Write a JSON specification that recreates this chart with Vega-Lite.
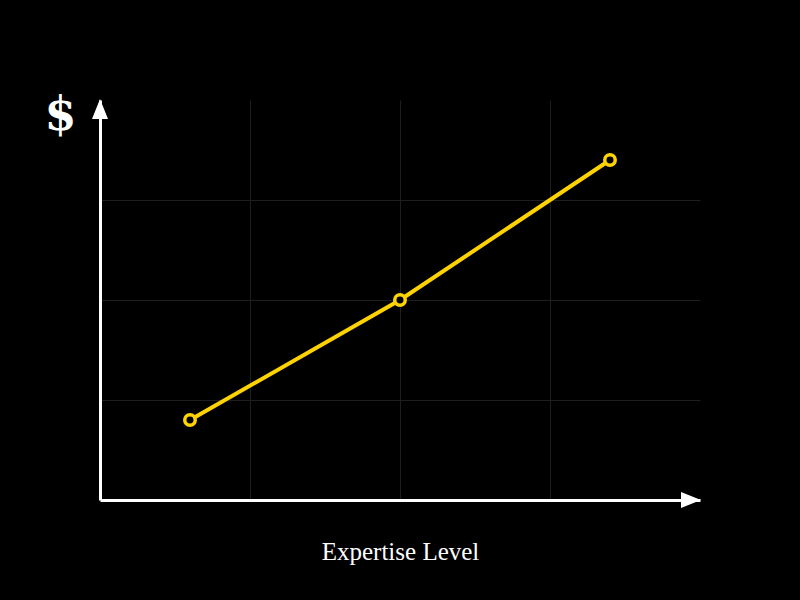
{
  "$schema": "https://vega.github.io/schema/vega-lite/v6.json",
  "width": 600,
  "height": 400,
  "autosize": {"type": "none"},
  "padding": {"left": 100, "top": 100, "right": 100, "bottom": 100},
  "background": "black",
  "config": {"view": {"stroke": null}},
  "datasets": {
    "salary": [
      {"expertise": 0.6, "pay": 0.8},
      {"expertise": 2.0, "pay": 2.0},
      {"expertise": 3.4, "pay": 3.4}
    ],
    "arrows": [
      {"ax": 0, "ay": 4, "dir": "up"},
      {"ax": 4, "ay": 0, "dir": "right"}
    ]
  },
  "layer": [
    {
      "data": {"name": "salary"},
      "mark": {"type": "line", "color": "#FFD300", "strokeWidth": 4},
      "encoding": {
        "x": {
          "field": "expertise", "type": "quantitative",
          "scale": {"domain": [0, 4], "nice": false, "zero": false},
          "axis": {
            "title": "Expertise Level",
            "titleFont": "Liberation Serif", "titleFontSize": 25, "titleFontWeight": "normal",
            "titleColor": "white", "titleX": 300, "titleY": 59, "titleAlign": "center", "titleBaseline": "alphabetic",
            "labels": false, "ticks": false,
            "domainColor": "white", "domainWidth": 3,
            "grid": true, "values": [1, 2, 3], "gridColor": "#1e1e1e", "gridWidth": 1
          }
        },
        "y": {
          "field": "pay", "type": "quantitative",
          "scale": {"domain": [0, 4], "nice": false, "zero": false},
          "axis": {
            "title": "$",
            "titleFont": "DejaVu Serif", "titleFontSize": 46, "titleFontWeight": 700,
            "titleColor": "white", "titleAngle": 0, "titleX": -40, "titleY": 29, "titleAlign": "center", "titleBaseline": "alphabetic",
            "labels": false, "ticks": false,
            "domainColor": "white", "domainWidth": 3,
            "grid": true, "values": [1, 2, 3], "gridColor": "#1e1e1e", "gridWidth": 1
          }
        }
      }
    },
    {
      "data": {"name": "salary"},
      "mark": {"type": "point", "shape": "circle", "filled": true, "fill": "black", "stroke": "#FFD300", "strokeWidth": 3.5, "size": 110, "opacity": 1},
      "encoding": {
        "x": {"field": "expertise", "type": "quantitative"},
        "y": {"field": "pay", "type": "quantitative"}
      }
    },
    {
      "data": {"name": "arrows"},
      "mark": {"type": "point", "filled": true, "color": "white", "opacity": 1, "size": 400},
      "encoding": {
        "x": {"field": "ax", "type": "quantitative"},
        "y": {"field": "ay", "type": "quantitative"},
        "shape": {
          "field": "dir", "type": "nominal",
          "scale": {"domain": ["up", "right"], "range": ["M0,-0.1L0.8,1.9L-0.8,1.9Z", "M0.1,0L-1.9,0.8L-1.9,-0.8Z"]},
          "legend": null
        }
      }
    }
  ]
}
